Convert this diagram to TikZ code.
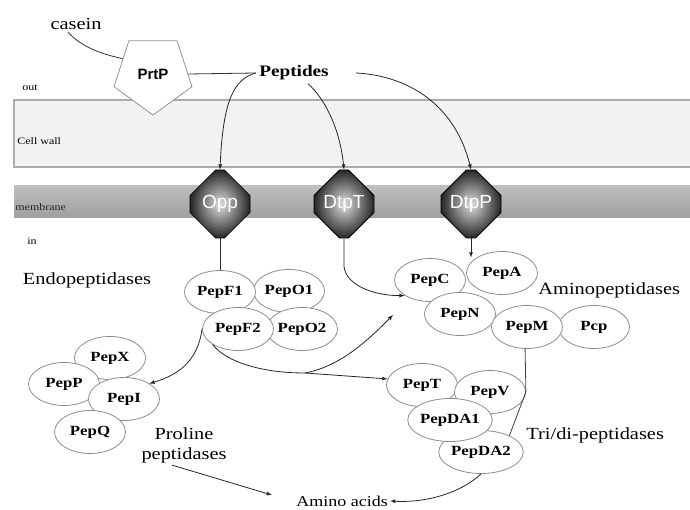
\documentclass[tikz,border=0pt]{standalone}
\usepackage{fontspec}
\setmainfont{Liberation Serif}[FakeStretch=1.2]
\setsansfont{Liberation Sans}
\usetikzlibrary{arrows}
\usetikzlibrary{positioning}
\usetikzlibrary{shapes.geometric}
\usetikzlibrary{shapes.misc}
\tikzset{enz/.style = {draw = gray!90, fill = white, ellipse, inner sep = 0, minimum width = 71, minimum height = 43, font = \bfseries\fontsize{14}{14}\selectfont}}
\tikzset{oct/.style = {chamfered rectangle, chamfered rectangle xsep = 15pt, chamfered rectangle ysep = 17pt, minimum width = 60, minimum height = 68, inner sep = 0, draw = black, shading = radial, inner color = gray!25, outer color = black!85, text = white, font = \sffamily\fontsize{19}{19}\selectfont}}
\tikzset{lbl/.style = {inner sep = 2, font = \fontsize{17}{20}\selectfont}}
\tikzset{sml/.style = {inner sep = 1, font = \fontsize{10}{10}\selectfont}}
\definecolor{wallgray}{rgb}{0.95, 0.95, 0.95}

\begin{document}
\begin{tikzpicture}[x = 1pt, y = -1pt, >=latex, line width = 0.8pt]
      \useasboundingbox (0, 0) rectangle (690, 510);
      % wall and membrane
      \draw [draw = gray!65, fill = wallgray, line width = 1.3pt] (14, 100) rectangle (700, 167);
      \shade [top color = gray!50, bottom color = gray!75] (14, 186) rectangle (700, 218);
      \node [sml] (outlbl) at (30, 88) {out};
      \node [sml, anchor = west] (walllbl) at (16, 141) {Cell wall};
      \node [sml, anchor = west, text = black!85] (memlbl) at (14, 207) {membrane};
      \node [sml] (inlbl) at (32, 241) {in};
      % outside
      \node [lbl] (casein) at (76, 24) {casein};
      \node [regular polygon, regular polygon sides = 5, shape border rotate = 180, draw = gray!85, fill = white, minimum size = 82, inner sep = 0, font = \sffamily\bfseries\fontsize{15}{15}\selectfont] (prtp) at (153, 74) {PrtP};
      \node [inner sep = 3, font = \bfseries\fontsize{16}{16}\selectfont] (peptides) at (294, 73) {Peptides};
      \foreach \n/\x in {Opp/220, DtpT/344, DtpP/471} {
        \node [oct] (\n) at (\x, 204) {\n};
      }
      % endopeptidases
      \node [lbl] (endolbl) at (87, 280) {Endopeptidases};
      \node [enz] (pepo1) at (289, 291) {PepO1};
      \node [enz] (pepo2) at (302, 329) {PepO2};
      \node [enz] (pepf1) at (220, 292) {PepF1};
      \node [enz] (pepf2) at (238, 329) {PepF2};
      % proline peptidases
      \node [enz] (pepx) at (110, 358) {PepX};
      \node [enz] (pepp) at (64, 384) {PepP};
      \node [enz] (pepi) at (124, 399) {PepI};
      \node [enz] (pepq) at (90, 432) {PepQ};
      \node [lbl, align = center] (prolbl) at (184, 445) {Proline\\peptidases};
      % aminopeptidases
      \node [enz] (pepc) at (430, 280) {PepC};
      \node [enz] (pepa) at (502, 273) {PepA};
      \node [enz] (pepn) at (460, 314) {PepN};
      \node [enz] (pcp) at (594, 327) {Pcp};
      \node [enz] (pepm) at (527, 327) {PepM};
      \node [lbl, anchor = west] (aminolbl) at (536, 290) {Aminopeptidases};
      % tri/di-peptidases
      \node [enz] (pept) at (422, 385) {PepT};
      \node [enz] (pepv) at (490, 392) {PepV};
      \node [enz] (pepda2) at (481, 452) {PepDA2};
      \node [enz] (pepda1) at (450, 420) {PepDA1};
      \node [lbl, anchor = west] (trilbl) at (524, 435) {Tri/di-peptidases};
      \node [lbl, font = \fontsize{15}{15}\selectfont] (amino) at (342, 501) {Amino acids};
      \coordinate (fork) at (305, 373);
      \coordinate (aminoin) at (393, 315);
      % connectors
      \draw [black!80] ([xshift = -8pt]casein.south) .. controls (82, 48) and (105, 55) .. (prtp.153);
      \draw [black!80] (prtp.east) -- (peptides.west);
      \draw [->, black!85] (peptides.west) .. controls (234, 79) and (223, 100) .. (Opp.north);
      \draw [->, black!85] ([xshift = 14pt]peptides.south) .. controls (326, 100) and (340, 130) .. (DtpT.north);
      \draw [->, black!85] ([xshift = 24pt]peptides.east) .. controls (412, 76) and (456, 108) .. (DtpP.north);
      \draw [black!85] (Opp.south) -- (pepf1.north);
      \draw [->, black!85] (DtpT.south) -- ++(0, 24) .. controls (342, 285) and (375, 296) .. (pepc.south west);
      \draw [->, black!85] (DtpP.south) -- (DtpP.south |- pepa.north west);
      \draw [->, black!85] (pepf2.west) .. controls (198, 358) and (182, 374) .. (pepi.north east);
      \draw [->, black!85] (pepf2.south west) .. controls (226, 362) and (262, 373) .. (fork) -- (pept.170);
      \draw [->, black!85] (fork) .. controls (342, 366) and (370, 338) .. (aminoin);
      \draw [black!75] (pepm.265) -- (pepv.east) -- (pepda2.30);
      \draw [->, black!85] (pepda2.south) .. controls (462, 492) and (428, 503) .. (amino.east);
      \draw [->, black!85] ([xshift = -12pt]prolbl.south) -- ([xshift = -22pt, yshift = 6pt]amino.west);
\end{tikzpicture}
\end{document}
